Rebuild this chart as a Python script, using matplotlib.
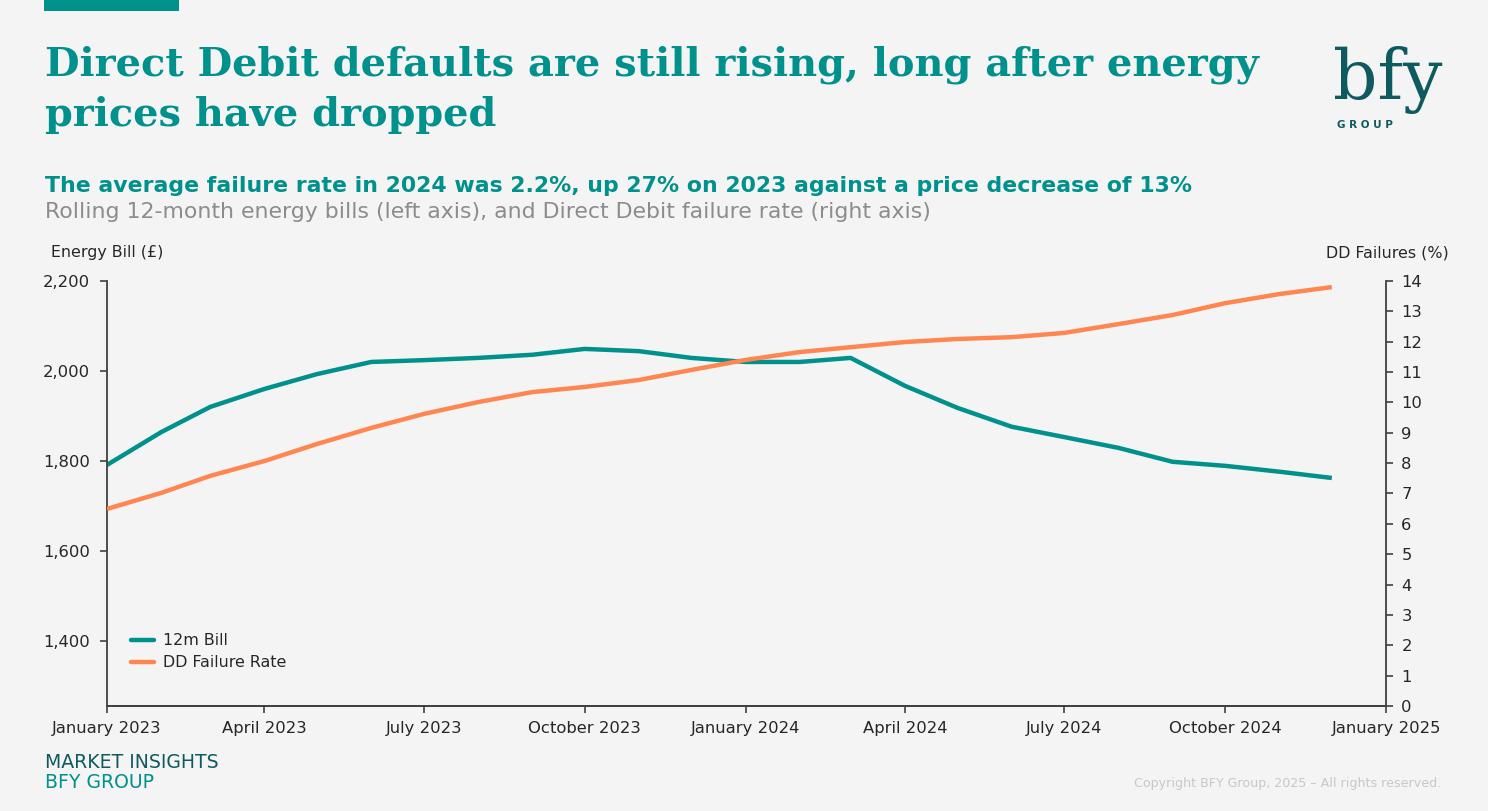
import pandas as pd
import numpy as np
import matplotlib.pyplot as plt
import matplotlib.dates as mdates
from matplotlib.patches import Rectangle

# monthly data, Jan 2023 - Dec 2024
months = pd.date_range('2023-01-01', '2024-12-01', freq='MS')
bill_12m = [1791, 1864, 1920, 1960, 1993, 2020, 2024, 2029, 2036, 2049, 2044, 2029,
            2020, 2020, 2029, 1967, 1918, 1876, 1853, 1829, 1798, 1789, 1776, 1762]
dd_failure = [6.49, 7.02, 7.58, 8.07, 8.63, 9.16, 9.62, 10.01, 10.34, 10.51, 10.74, 11.07,
              11.40, 11.66, 11.82, 11.99, 12.09, 12.15, 12.29, 12.58, 12.88, 13.27, 13.57, 13.80]
left_ticks = [1400, 1600, 1800, 2000, 2200]
right_ticks = list(range(0, 15))
x_ticks = pd.date_range('2023-01-01', '2025-01-01', freq='QS')

teal = '#00918C'
dark_teal = '#0E5A5E'
orange = '#FF8650'
bg = '#F4F4F4'
axis_col = '#404040'
txt = '#262626'

plt.rcParams['font.family'] = ['DejaVu Sans']

fig = plt.figure(figsize=(14.88, 8.11), dpi=100, facecolor=bg)
ax = fig.add_axes([0.0719, 0.1295, 0.8596, 0.524])
ax.set_facecolor(bg)
ax2 = ax.twinx()

l1, = ax.plot(months, bill_12m, color=teal, lw=3.2, solid_capstyle='butt', label='12m Bill')
l2, = ax2.plot(months, dd_failure, color=orange, lw=3.2, solid_capstyle='butt', label='DD Failure Rate')

ax.set_xlim(pd.Timestamp('2023-01-01'), pd.Timestamp('2025-01-01'))
ax.set_ylim(1255, 2200)
ax2.set_ylim(0, 14)
ax.set_yticks(left_ticks)
ax.set_yticklabels([f'{v:,}' for v in left_ticks])
ax2.set_yticks(right_ticks)
ax.set_xticks(x_ticks)
ax.xaxis.set_major_formatter(mdates.DateFormatter('%B %Y'))

for a in (ax, ax2):
    for s in a.spines.values():
        s.set_color(axis_col)
        s.set_linewidth(1.3)
    a.spines['top'].set_visible(False)
    a.tick_params(colors=axis_col, labelcolor=txt, labelsize=11.8, length=5, width=1.2)
ax.spines['right'].set_visible(False)
ax2.spines['left'].set_visible(False)
ax.tick_params(axis='x', pad=6)
ax.tick_params(axis='y', pad=7)
ax2.tick_params(axis='y', pad=6)

leg = ax.legend(handles=[l1, l2], loc='lower left', bbox_to_anchor=(0.008, 0.05),
                frameon=False, fontsize=11.4, handlelength=1.4, handletextpad=0.6,
                labelspacing=0.45, labelcolor=txt)
for h in leg.get_lines():
    h.set_solid_capstyle('round')

fig.text(51 / 1488, 1 - 253 / 811, 'Energy Bill (£)', fontsize=11.4, color=txt, va='center')
fig.text(1449 / 1488, 1 - 253 / 811, 'DD Failures (%)', fontsize=11.4, color=txt, va='center', ha='right')

# header
fig.add_artist(Rectangle((44 / 1488, 1 - 11 / 811), 135 / 1488, 11 / 811,
                         transform=fig.transFigure, color='#00918C', lw=0))
fig.text(45 / 1488, 1 - 65 / 811, 'Direct Debit defaults are still rising, long after energy',
         fontsize=28.7, fontweight='bold', family='DejaVu Serif', color=teal, va='center')
fig.text(45 / 1488, 1 - 115 / 811, 'prices have dropped',
         fontsize=28.7, fontweight='bold', family='DejaVu Serif', color=teal, va='center')
fig.text(45 / 1488, 1 - 186 / 811,
         'The average failure rate in 2024 was 2.2%, up 27% on 2023 against a price decrease of 13%',
         fontsize=15.8, fontweight='bold', color=teal, va='center')
fig.text(45 / 1488, 1 - 212 / 811,
         'Rolling 12-month energy bills (left axis), and Direct Debit failure rate (right axis)',
         fontsize=15.8, color='#8C8C8C', va='center')

# logo
fig.text(1388 / 1488, 1 - 80 / 811, 'bfy', fontsize=50, family='DejaVu Serif',
         color=dark_teal, ha='center', va='center')
fig.text(1365 / 1488, 1 - 125 / 811, 'G R O U P', fontsize=7.5, fontweight='bold',
         color=dark_teal, ha='center', va='center')

# footer
fig.text(45 / 1488, 1 - 762 / 811, 'MARKET INSIGHTS', fontsize=13.6, color=dark_teal, va='center')
fig.text(45 / 1488, 1 - 783 / 811, 'BFY GROUP', fontsize=13.6, color=teal, va='center')
fig.text(1441 / 1488, 1 - 783 / 811, 'Copyright BFY Group, 2025 – All rights reserved.',
         fontsize=9.1, color='#C8C8C8', ha='right', va='center')

fig.savefig('out.png', dpi=100, facecolor=bg)
